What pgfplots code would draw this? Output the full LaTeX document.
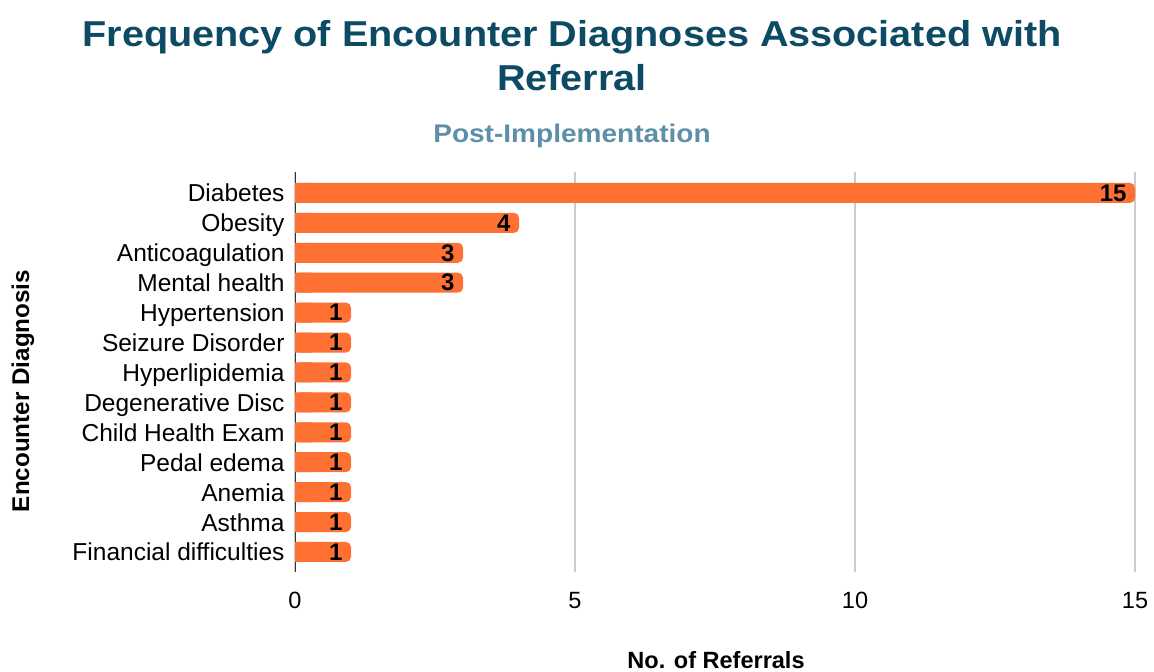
\documentclass[border=0pt]{standalone}
\usepackage{fontspec}
\setmainfont{Liberation Sans}
\newfontfamily\titlefont[FakeStretch=1.1]{Liberation Sans}
\usepackage{pgfplots}
\pgfplotsset{compat=1.18}
\definecolor{titlecol}{HTML}{0D4A63}
\definecolor{subcol}{HTML}{5E8FA8}
\definecolor{barcol}{HTML}{FF7033}
\definecolor{gridcol}{HTML}{CCCCCC}
\definecolor{axiscol}{HTML}{333333}
\begin{document}
\begin{tikzpicture}
\path[use as bounding box] (0,0) rectangle (1154pt,672pt);
\node[anchor=base, text=titlecol, font=\titlefont\bfseries\fontsize{36}{40}\selectfont] at (572pt,625pt) {Frequency of Encounter Diagnoses Associated with};
\node[anchor=base, text=titlecol, font=\titlefont\bfseries\fontsize{36}{40}\selectfont] at (572pt,581pt) {Referral};
\node[anchor=base, text=subcol, font=\titlefont\bfseries\fontsize{25.5}{28}\selectfont] at (572pt,529pt) {Post-Implementation};
\node[anchor=base, font=\bfseries\fontsize{23.5}{26}\selectfont] at (716pt,3pt) {No. of Referrals};
\node[anchor=base, rotate=90, font=\bfseries\fontsize{24.2}{28}\selectfont] at (29pt,281pt) {Encounter Diagnosis};
\begin{axis}[
  at={(295pt,100pt)}, anchor=south west,
  width=840pt, height=400pt, scale only axis,
  xmin=0, xmax=15, ymin=-0.7, ymax=12.67,
  y dir=reverse,
  clip=false,
  axis lines*=left,
  axis line style={-},
  x axis line style={draw=none},
  y axis line style={draw=axiscol, line width=1pt},
  xtick={0,5,10,15},
  ytick={0,1,2,3,4,5,6,7,8,9,10,11,12},
  yticklabels={Diabetes,Obesity,Anticoagulation,Mental health,Hypertension,Seizure Disorder,Hyperlipidemia,Degenerative Disc,Child Health Exam,Pedal edema,Anemia,Asthma,Financial difficulties},
  major tick length=0pt,
  xmajorgrids,
  major x grid style={draw=gridcol, line width=1.3pt},
  xticklabel style={font=\fontsize{23.5}{26}\selectfont},
  yticklabel style={font=\fontsize{24.5}{28}\selectfont},
  /pgf/number format/assume math mode=true,
  xticklabel style={anchor=base, yshift=-36pt},
  yticklabel style={anchor=base east, xshift=-7pt, yshift=-9pt},
  xbar, bar width=20pt,
]
\addplot[fill=barcol, draw=none, bar shift=0pt] coordinates {
  (0.3,0) (0.3,1) (0.3,2) (0.3,3) (0.3,4) (0.3,5) (0.3,6) (0.3,7) (0.3,8) (0.3,9) (0.3,10) (0.3,11) (0.3,12)};
\addplot[fill=barcol, draw=none, bar shift=0pt, rounded corners=5pt,
  nodes near coords,
  nodes near coords style={anchor=east, xshift=-5pt, text=black, font=\bfseries\fontsize{24}{26}\selectfont},
] coordinates {
  (15,0) (4,1) (3,2) (3,3) (1,4) (1,5) (1,6) (1,7) (1,8) (1,9) (1,10) (1,11) (1,12)};
\end{axis}
\end{tikzpicture}
\end{document}
